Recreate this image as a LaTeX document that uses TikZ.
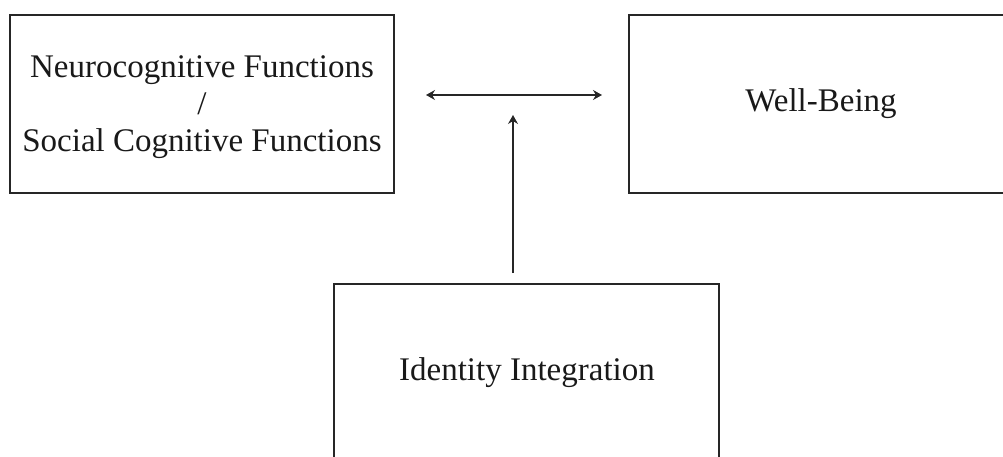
\documentclass[tikz,border=0pt]{standalone}
\usepackage{fontspec}
\setmainfont{Liberation Serif}
\usetikzlibrary{arrows.meta}
\begin{document}
\begin{tikzpicture}[x=1pt,y=-1pt,
  box/.style={draw=black!85, line width=1.5pt},
  label/.style={font=\fontsize{33}{37}\selectfont, align=center, text=black!90},
  tip/.style={Stealth[length=9pt,width=10pt,inset=3pt]},
  link/.style={draw=black!85, line width=1.3pt, -{Stealth[length=9pt,width=10pt,inset=3pt]}},
  biglink/.style={draw=black!85, line width=1.3pt, {Stealth[length=9pt,width=10pt,inset=3pt]}-{Stealth[length=9pt,width=10pt,inset=3pt]}}]
  \useasboundingbox (0,0) rectangle (1003,457);
  \clip (0,0) rectangle (1003,457);
  % boxes
  \draw[box] (10,15) rectangle (394,193);
  \draw[box] (629,15) rectangle (1015,193);
  \draw[box] (334,284) rectangle (719,470);
  % texts
  \node[label] (cog) at (202,107) {Neurocognitive Functions\\/\\Social Cognitive Functions};
  \node[label] (wb) at (821,104) {Well-Being};
  \node[label] (ii) at (527,373) {Identity Integration};
  % connectors
  \coordinate (ha) at (426,95);
  \coordinate (hb) at (602,95);
  \coordinate (vb) at (513,273);
  \coordinate (vt) at (513,115);
  \draw[biglink] (ha) -- (hb);
  \draw[link] (vb) -- (vt);
\end{tikzpicture}
\end{document}
